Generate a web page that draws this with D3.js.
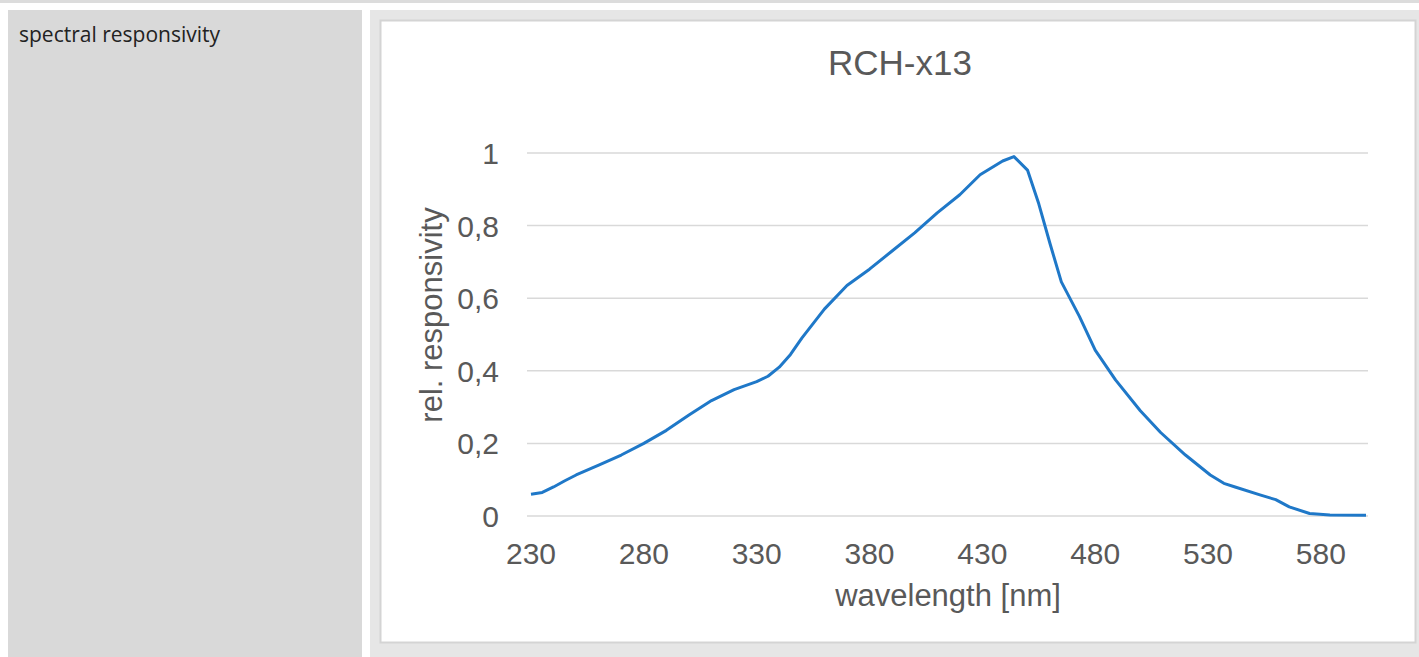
<!DOCTYPE html>
<html>
<head>
<meta charset="utf-8">
<script src="https://d3js.org/d3.v7.min.js"></script>
<style>
  body { margin: 0; background: #fff; overflow: hidden; }
  svg { display: block; }
</style>
</head>
<body>
<svg id="page" width="1419" height="657"></svg>
<script>
// spectral response
var wavelengths = [230, 235, 240, 245, 250, 260, 270, 280, 290, 300, 310, 320, 330, 335, 340, 345, 350, 360, 370, 380, 390, 400, 410, 420, 429, 439, 444, 450, 455, 460, 465, 473, 480, 489, 500, 509, 520, 531, 537, 542, 553, 560, 566, 575, 584, 600];
var responsivity = [0.06, 0.065, 0.08, 0.097, 0.113, 0.14, 0.168, 0.2, 0.236, 0.278, 0.318, 0.348, 0.37, 0.385, 0.41, 0.445, 0.49, 0.57, 0.635, 0.68, 0.73, 0.78, 0.835, 0.885, 0.94, 0.978, 0.99, 0.953, 0.86, 0.75, 0.645, 0.55, 0.457, 0.375, 0.29, 0.23, 0.168, 0.113, 0.09, 0.08, 0.058, 0.045, 0.025, 0.007, 0.003, 0.002];
var xTicks = [230, 280, 330, 380, 430, 480, 530, 580];
var yTicks = [0, 0.2, 0.4, 0.6, 0.8, 1];

var svg = d3.select('#page');

// page cells
svg.append('rect').attr('x', 0).attr('y', 0).attr('width', 1419).attr('height', 3).attr('fill', '#dcdcdc');
svg.append('rect').attr('x', 8).attr('y', 10).attr('width', 354).attr('height', 647).attr('fill', '#d9d9d9');
svg.append('rect').attr('x', 370).attr('y', 10).attr('width', 1049).attr('height', 647).attr('fill', '#e6e6e6');
svg.append('text').attr('x', 19).attr('y', 42)
  .style('font-family', '"Open Sans", sans-serif').style('font-size', '21px').attr('fill', '#222')
  .text('spectral responsivity');

// chart image frame
svg.append('rect').attr('x', 380.5).attr('y', 20.5).attr('width', 1035).attr('height', 622)
  .attr('fill', '#fff').attr('stroke', '#d4d4d4').attr('stroke-width', 2);

var font = '"Liberation Sans", Arial, sans-serif';
var grey = '#595959';

var x = d3.scaleLinear().domain([230, 600]).range([531, 1366]);
var y = d3.scaleLinear().domain([0, 1]).range([516, 153]);

// gridlines
svg.append('g').selectAll('line').data(yTicks).enter().append('line')
  .attr('x1', 527).attr('x2', 1368)
  .attr('y1', function (d) { return y(d); })
  .attr('y2', function (d) { return y(d); })
  .attr('stroke', '#d9d9d9').attr('stroke-width', 1.5);

// y tick labels
svg.append('g').selectAll('text').data(yTicks).enter().append('text')
  .attr('x', 499)
  .attr('y', function (d) { return y(d) + 11; })
  .attr('text-anchor', 'end')
  .style('font-family', font).style('font-size', '30px').attr('fill', grey)
  .text(function (d) { return String(d).replace('.', ','); });

// x tick labels
svg.append('g').selectAll('text').data(xTicks).enter().append('text')
  .attr('x', function (d) { return x(d); })
  .attr('y', 564)
  .attr('text-anchor', 'middle')
  .style('font-family', font).style('font-size', '30px').attr('fill', grey)
  .text(function (d) { return d; });

// titles
svg.append('text').attr('x', 900).attr('y', 75).attr('text-anchor', 'middle')
  .style('font-family', font).style('font-size', '35px').attr('fill', grey)
  .text('RCH-x13');
svg.append('text').attr('x', 948).attr('y', 606).attr('text-anchor', 'middle')
  .style('font-family', font).style('font-size', '31px').attr('fill', grey)
  .text('wavelength [nm]');
svg.append('text').attr('transform', 'translate(442,315) rotate(-90)').attr('text-anchor', 'middle')
  .style('font-family', font).style('font-size', '31px').attr('fill', grey)
  .text('rel. responsivity');

// curve
var line = d3.line()
  .x(function (d) { return x(d[0]); })
  .y(function (d) { return y(d[1]); });

svg.append('path')
  .datum(d3.zip(wavelengths, responsivity))
  .attr('d', line)
  .attr('fill', 'none')
  .attr('stroke', '#1f78c8')
  .attr('stroke-width', 3)
  .attr('stroke-linejoin', 'round');
</script>
</body>
</html>
